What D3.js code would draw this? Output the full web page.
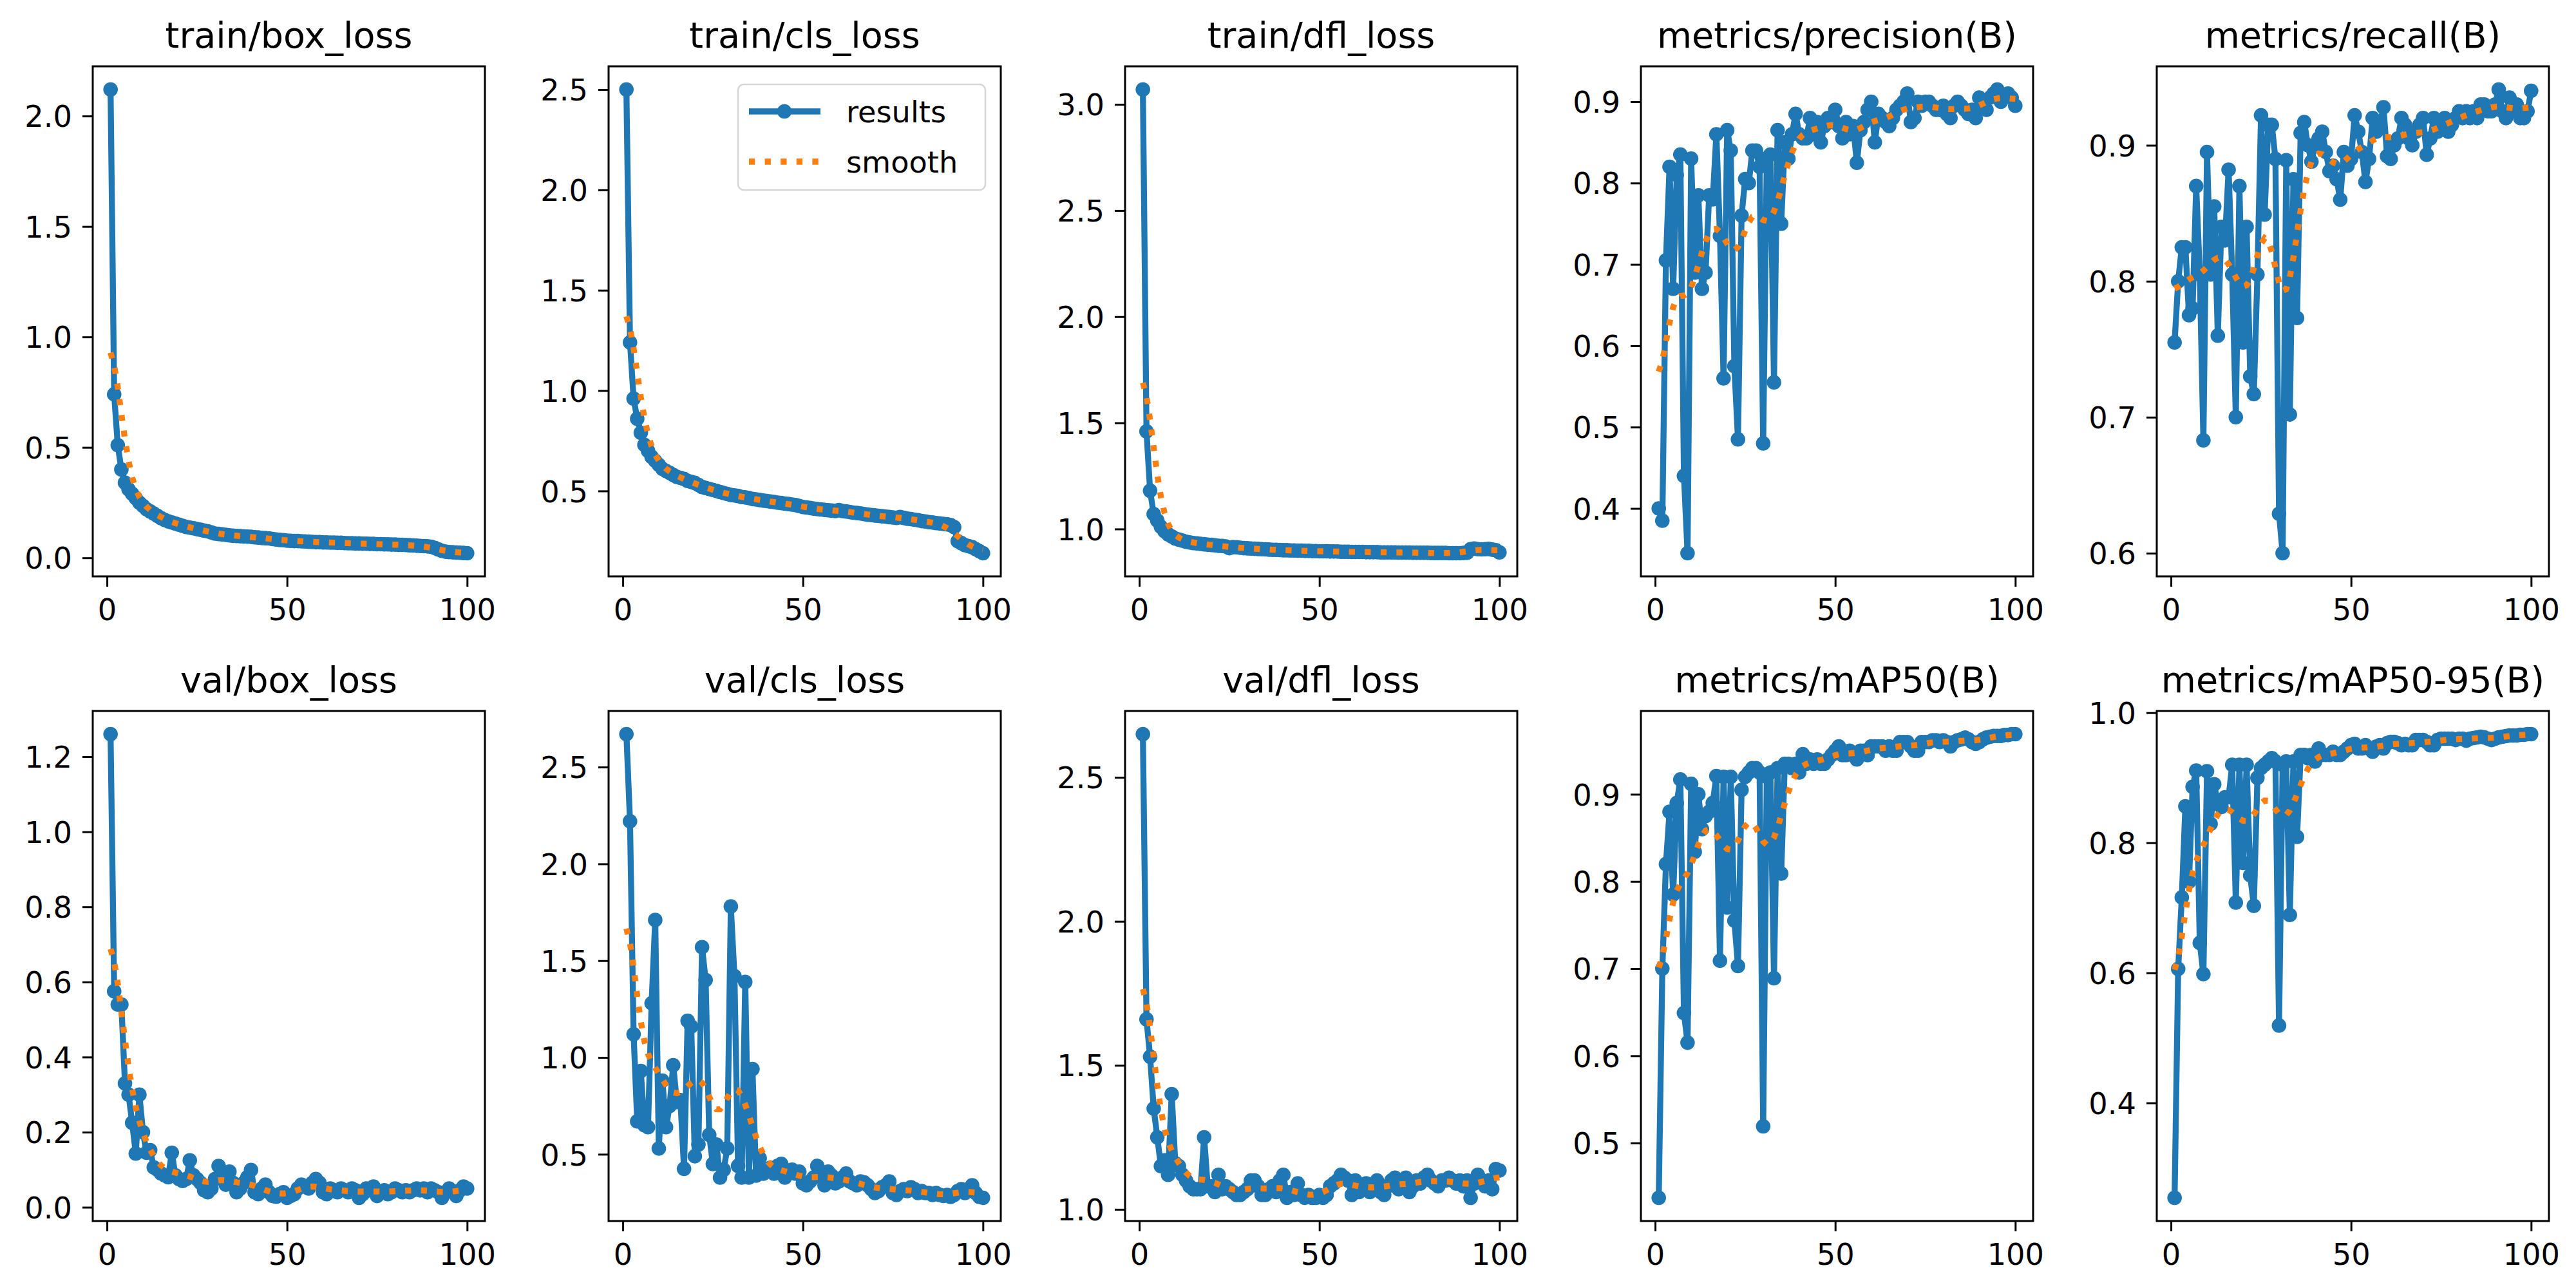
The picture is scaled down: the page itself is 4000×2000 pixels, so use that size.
<!DOCTYPE html>
<html>
<head>
<meta charset="utf-8">
<script src="https://cdn.jsdelivr.net/npm/d3@7"></script>
<style>
  body { margin: 0; background: #fff; }
  svg { display: block; font-family: "DejaVu Sans", sans-serif; }
</style>
</head>
<body>
<svg id="chart"></svg>
<script>
// epochs 1..100
const epochs = d3.range(1, 101);

const trainBox = [
  2.12,0.74,0.51,0.40,0.34,0.31,0.29,0.27,0.25,0.235,
  0.22,0.21,0.20,0.19,0.18,0.172,0.165,0.16,0.155,0.15,
  0.145,0.14,0.137,0.134,0.13,0.127,0.123,0.12,0.115,0.11,
  0.108,0.106,0.104,0.102,0.10,0.099,0.098,0.097,0.096,0.095,
  0.093,0.092,0.09,0.089,0.088,0.085,0.083,0.081,0.08,0.078,
  0.077,0.076,0.076,0.075,0.074,0.073,0.072,0.071,0.071,0.07,
  0.07,0.069,0.069,0.068,0.068,0.067,0.066,0.066,0.065,0.065,
  0.064,0.064,0.063,0.063,0.062,0.062,0.061,0.061,0.06,0.06,
  0.059,0.059,0.058,0.057,0.056,0.055,0.054,0.053,0.052,0.05,
  0.045,0.038,0.032,0.028,0.026,0.025,0.024,0.023,0.022,0.021
];
const trainCls = [
  2.50,1.24,0.96,0.86,0.79,0.73,0.70,0.67,0.65,0.63,
  0.61,0.60,0.59,0.58,0.57,0.565,0.56,0.55,0.545,0.54,
  0.53,0.52,0.515,0.51,0.505,0.50,0.495,0.49,0.485,0.48,
  0.478,0.475,0.47,0.468,0.465,0.46,0.458,0.455,0.452,0.45,
  0.447,0.445,0.442,0.44,0.437,0.435,0.432,0.43,0.425,0.42,
  0.418,0.415,0.412,0.41,0.408,0.406,0.404,0.402,0.40,0.405,
  0.40,0.398,0.395,0.392,0.39,0.388,0.385,0.382,0.38,0.378,
  0.376,0.374,0.372,0.37,0.368,0.366,0.37,0.366,0.362,0.36,
  0.357,0.354,0.35,0.348,0.345,0.343,0.34,0.338,0.336,0.334,
  0.33,0.32,0.25,0.24,0.23,0.225,0.22,0.21,0.20,0.19
];
const trainDfl = [
  3.07,1.46,1.18,1.07,1.04,1.01,0.99,0.975,0.965,0.955,
  0.95,0.945,0.94,0.937,0.934,0.932,0.93,0.928,0.926,0.925,
  0.923,0.921,0.92,0.918,0.91,0.915,0.914,0.912,0.91,0.909,
  0.908,0.907,0.906,0.905,0.904,0.903,0.902,0.902,0.901,0.90,
  0.90,0.899,0.899,0.898,0.898,0.897,0.897,0.896,0.896,0.895,
  0.895,0.895,0.894,0.894,0.894,0.893,0.893,0.893,0.892,0.892,
  0.892,0.892,0.891,0.891,0.891,0.891,0.89,0.89,0.89,0.89,
  0.89,0.889,0.889,0.889,0.889,0.888,0.888,0.888,0.888,0.888,
  0.887,0.887,0.887,0.887,0.887,0.886,0.886,0.886,0.886,0.887,
  0.888,0.905,0.908,0.905,0.904,0.905,0.906,0.903,0.90,0.89
];
const precision = [
  0.40,0.385,0.705,0.82,0.67,0.81,0.835,0.44,0.345,0.83,
  0.69,0.785,0.67,0.69,0.785,0.78,0.86,0.735,0.56,0.865,
  0.84,0.575,0.485,0.76,0.805,0.80,0.84,0.84,0.82,0.48,
  0.83,0.835,0.555,0.865,0.75,0.85,0.83,0.86,0.885,0.86,
  0.855,0.855,0.88,0.86,0.875,0.85,0.87,0.88,0.875,0.89,
  0.87,0.855,0.875,0.86,0.87,0.825,0.865,0.875,0.89,0.90,
  0.85,0.885,0.88,0.875,0.87,0.88,0.89,0.895,0.90,0.91,
  0.875,0.88,0.90,0.895,0.90,0.90,0.895,0.89,0.89,0.895,
  0.885,0.88,0.895,0.90,0.895,0.89,0.885,0.89,0.88,0.905,
  0.90,0.89,0.905,0.91,0.915,0.90,0.905,0.91,0.905,0.895
];
const recall = [
  0.755,0.80,0.825,0.825,0.775,0.78,0.87,0.805,0.683,0.895,
  0.805,0.855,0.76,0.84,0.83,0.882,0.805,0.70,0.87,0.755,
  0.84,0.73,0.717,0.805,0.922,0.849,0.915,0.915,0.89,0.629,
  0.60,0.889,0.702,0.875,0.773,0.909,0.917,0.90,0.888,0.90,
  0.905,0.91,0.895,0.881,0.885,0.875,0.86,0.895,0.885,0.89,
  0.922,0.91,0.895,0.873,0.89,0.92,0.91,0.915,0.928,0.892,
  0.89,0.90,0.905,0.92,0.915,0.905,0.90,0.91,0.915,0.92,
  0.893,0.905,0.92,0.91,0.915,0.92,0.91,0.915,0.92,0.925,
  0.92,0.925,0.92,0.925,0.92,0.93,0.93,0.925,0.925,0.93,
  0.941,0.925,0.92,0.935,0.925,0.93,0.92,0.92,0.925,0.94
];
const valBox = [
  1.26,0.575,0.54,0.54,0.33,0.30,0.225,0.143,0.30,0.20,
  0.145,0.152,0.106,0.10,0.09,0.085,0.08,0.145,0.085,0.075,
  0.07,0.075,0.125,0.085,0.075,0.065,0.045,0.04,0.05,0.075,
  0.11,0.085,0.06,0.095,0.065,0.04,0.05,0.065,0.08,0.099,
  0.04,0.035,0.05,0.06,0.04,0.03,0.028,0.035,0.04,0.025,
  0.03,0.035,0.05,0.06,0.055,0.05,0.065,0.075,0.065,0.04,
  0.035,0.05,0.045,0.04,0.05,0.045,0.04,0.05,0.045,0.025,
  0.035,0.05,0.045,0.055,0.03,0.04,0.045,0.035,0.04,0.05,
  0.045,0.04,0.045,0.04,0.045,0.05,0.045,0.05,0.04,0.05,
  0.045,0.04,0.025,0.04,0.05,0.04,0.03,0.045,0.055,0.05
];
const valCls = [
  2.67,2.22,1.12,0.67,0.93,0.65,0.64,1.28,1.71,0.53,
  0.88,0.64,0.75,0.96,0.77,0.78,0.425,1.19,1.16,0.49,
  0.55,1.57,1.40,0.60,0.45,0.55,0.38,0.42,0.53,1.78,
  1.42,0.44,0.38,1.39,0.38,0.94,0.39,0.48,0.40,0.42,
  0.43,0.40,0.44,0.45,0.38,0.41,0.42,0.40,0.41,0.35,
  0.34,0.36,0.38,0.44,0.40,0.34,0.41,0.39,0.35,0.36,
  0.38,0.40,0.36,0.35,0.34,0.36,0.355,0.34,0.32,0.30,
  0.31,0.33,0.34,0.36,0.30,0.29,0.31,0.32,0.31,0.33,
  0.32,0.30,0.31,0.30,0.30,0.29,0.30,0.29,0.285,0.29,
  0.28,0.29,0.31,0.32,0.30,0.32,0.34,0.30,0.28,0.275
];
const valDfl = [
  2.65,1.66,1.53,1.35,1.25,1.15,1.17,1.12,1.40,1.16,
  1.15,1.12,1.10,1.08,1.07,1.07,1.07,1.25,1.08,1.08,
  1.06,1.12,1.07,1.08,1.07,1.06,1.05,1.05,1.06,1.07,
  1.10,1.10,1.08,1.05,1.05,1.07,1.08,1.06,1.10,1.12,
  1.04,1.06,1.05,1.09,1.05,1.04,1.05,1.04,1.04,1.05,
  1.04,1.05,1.08,1.09,1.10,1.12,1.11,1.10,1.05,1.10,
  1.06,1.07,1.09,1.06,1.08,1.10,1.06,1.05,1.08,1.10,
  1.11,1.07,1.09,1.11,1.06,1.08,1.10,1.09,1.11,1.12,
  1.10,1.09,1.08,1.10,1.10,1.11,1.10,1.09,1.10,1.08,
  1.10,1.04,1.09,1.12,1.10,1.08,1.10,1.07,1.14,1.135
];
const map50 = [
  0.437,0.70,0.82,0.88,0.785,0.89,0.917,0.649,0.615,0.912,
  0.834,0.90,0.86,0.875,0.88,0.89,0.921,0.709,0.92,0.77,
  0.92,0.755,0.703,0.905,0.92,0.925,0.93,0.93,0.925,0.519,
  0.92,0.925,0.689,0.93,0.809,0.935,0.935,0.93,0.935,0.925,
  0.946,0.935,0.94,0.935,0.94,0.935,0.935,0.94,0.945,0.95,
  0.955,0.945,0.945,0.95,0.945,0.94,0.95,0.95,0.945,0.955,
  0.955,0.955,0.955,0.95,0.955,0.95,0.95,0.96,0.96,0.96,
  0.955,0.95,0.95,0.96,0.96,0.96,0.962,0.962,0.96,0.962,
  0.96,0.955,0.96,0.962,0.963,0.965,0.963,0.96,0.958,0.96,
  0.963,0.965,0.966,0.967,0.967,0.967,0.968,0.968,0.969,0.969
];
const map5095 = [
  0.254,0.606,0.716,0.856,0.74,0.886,0.911,0.646,0.598,0.91,
  0.829,0.89,0.86,0.855,0.87,0.87,0.92,0.708,0.92,0.769,
  0.92,0.75,0.703,0.90,0.915,0.92,0.925,0.93,0.925,0.519,
  0.92,0.925,0.689,0.925,0.809,0.935,0.935,0.93,0.935,0.925,
  0.945,0.935,0.935,0.935,0.94,0.935,0.935,0.94,0.945,0.95,
  0.952,0.945,0.945,0.95,0.945,0.94,0.948,0.95,0.945,0.953,
  0.955,0.955,0.953,0.95,0.952,0.95,0.95,0.958,0.958,0.958,
  0.955,0.95,0.95,0.958,0.96,0.96,0.96,0.96,0.958,0.96,
  0.96,0.957,0.96,0.961,0.962,0.963,0.962,0.96,0.958,0.96,
  0.962,0.963,0.964,0.965,0.965,0.965,0.966,0.966,0.967,0.967
];

const titles = [
  "train/box_loss", "train/cls_loss", "train/dfl_loss", "metrics/precision(B)", "metrics/recall(B)",
  "val/box_loss", "val/cls_loss", "val/dfl_loss", "metrics/mAP50(B)", "metrics/mAP50-95(B)"
];
const series = [trainBox, trainCls, trainDfl, precision, recall, valBox, valCls, valDfl, map50, map5095];
const yTicks = [
  [0.0, 0.5, 1.0, 1.5, 2.0],
  [0.5, 1.0, 1.5, 2.0, 2.5],
  [1.0, 1.5, 2.0, 2.5, 3.0],
  [0.4, 0.5, 0.6, 0.7, 0.8, 0.9],
  [0.6, 0.7, 0.8, 0.9],
  [0.0, 0.2, 0.4, 0.6, 0.8, 1.0, 1.2],
  [0.5, 1.0, 1.5, 2.0, 2.5],
  [1.0, 1.5, 2.0, 2.5],
  [0.5, 0.6, 0.7, 0.8, 0.9],
  [0.4, 0.6, 0.8, 1.0]
];
const xTicks = [0, 50, 100];
const legendLabels = ["results", "smooth"];

const blue = "#1f77b4", orange = "#ff7f0e";

// gaussian_filter1d(sigma=3), reflect mode, like the original results plot
function smooth(y, sigma = 3) {
  const r = Math.floor(4 * sigma + 0.5);
  const w = d3.range(-r, r + 1).map(k => Math.exp(-0.5 * k * k / (sigma * sigma)));
  const ws = d3.sum(w);
  const n = y.length;
  return y.map((_, i) => {
    let s = 0;
    for (let k = -r; k <= r; k++) {
      let j = i + k;
      if (j < 0) j = -j - 1;
      if (j >= n) j = 2 * n - j - 1;
      s += w[k + r] * y[j];
    }
    return s / ws;
  });
}

const svgWidth = 4000, svgHeight = 2000;
const colLeft = [144, 945, 1747, 2548, 3349];
const rowTop = [103, 1104];
const pw = 609, ph = 792;
const fsTitle = 55.6, fsTick = 46.3;
const tickLen = 16, tickPad = 16;

const svg = d3.select("#chart")
  .attr("width", svgWidth)
  .attr("height", svgHeight);

svg.append("rect").attr("width", svgWidth).attr("height", svgHeight).attr("fill", "#fff");

series.forEach((vals, i) => {
  const left = colLeft[i % 5], top = rowTop[Math.floor(i / 5)];
  const g = svg.append("g").attr("transform", `translate(${left},${top})`);

  const sm = smooth(vals);
  const lo = d3.min(vals.concat(sm)), hi = d3.max(vals.concat(sm));
  const pad = (hi - lo) * 0.05;

  const x = d3.scaleLinear().domain([1 - 4.95, 100 + 4.95]).range([0, pw]);
  const y = d3.scaleLinear().domain([lo - pad, hi + pad]).range([ph, 0]);

  g.append("clipPath").attr("id", "clip" + i)
    .append("rect").attr("width", pw).attr("height", ph);

  const plot = g.append("g").attr("clip-path", `url(#clip${i})`);

  const line = d3.line().x((d, k) => x(epochs[k])).y(d => y(d));

  plot.append("path")
    .datum(vals)
    .attr("d", line)
    .attr("fill", "none")
    .attr("stroke", blue)
    .attr("stroke-width", 9.3)
    .attr("stroke-linejoin", "round");

  plot.selectAll("circle")
    .data(vals)
    .enter()
    .append("circle")
    .attr("cx", (d, k) => x(epochs[k]))
    .attr("cy", d => y(d))
    .attr("r", 9)
    .attr("fill", blue)
    .attr("stroke", blue)
    .attr("stroke-width", 4.6);

  plot.append("path")
    .datum(sm)
    .attr("d", line)
    .attr("fill", "none")
    .attr("stroke", orange)
    .attr("stroke-width", 9.3)
    .attr("stroke-dasharray", "9.3,15.3");

  // axes
  const xAxis = g.append("g")
    .attr("transform", `translate(0,${ph})`)
    .call(d3.axisBottom(x).tickValues(xTicks).tickSize(tickLen).tickPadding(tickPad).tickFormat(d3.format("d")));
  const yAxis = g.append("g")
    .call(d3.axisLeft(y).tickValues(yTicks[i]).tickSize(tickLen).tickPadding(tickPad).tickFormat(d3.format(".1f")));

  [xAxis, yAxis].forEach(a => {
    a.select(".domain").remove();
    a.selectAll("line").attr("stroke", "#000").attr("stroke-width", 3);
    a.selectAll("text")
      .attr("fill", "#000")
      .style("font-family", "DejaVu Sans")
      .style("font-size", fsTick + "px");
  });
  xAxis.selectAll("text").attr("dy", null).attr("y", tickLen + tickPad + 36);
  yAxis.selectAll("text").attr("dy", "0.36em");

  g.append("rect")
    .attr("width", pw)
    .attr("height", ph)
    .attr("fill", "none")
    .attr("stroke", "#000")
    .attr("stroke-width", 3);

  g.append("text")
    .attr("x", pw / 2)
    .attr("y", -29)
    .attr("text-anchor", "middle")
    .style("font-size", fsTitle + "px")
    .attr("fill", "#000")
    .text(titles[i]);

  // legend only on the train/cls_loss panel
  if (i === 1) {
    const lg = g.append("g").attr("transform", `translate(${pw - 24 - 384},28)`);
    lg.append("rect")
      .attr("width", 384)
      .attr("height", 164)
      .attr("rx", 9)
      .attr("fill", "#fff")
      .attr("fill-opacity", 0.8)
      .attr("stroke", "#d6d6d6")
      .attr("stroke-width", 2.5);
    lg.append("line")
      .attr("x1", 17).attr("x2", 128).attr("y1", 42).attr("y2", 42)
      .attr("stroke", blue).attr("stroke-width", 9.3);
    lg.append("circle")
      .attr("cx", 72).attr("cy", 42).attr("r", 9)
      .attr("fill", blue).attr("stroke", blue).attr("stroke-width", 4.6);
    lg.append("line")
      .attr("x1", 17).attr("x2", 128).attr("y1", 120).attr("y2", 120)
      .attr("stroke", orange).attr("stroke-width", 9.3)
      .attr("stroke-dasharray", "9.3,15.3");
    lg.selectAll(".lbl")
      .data(legendLabels)
      .enter()
      .append("text")
      .attr("x", 168)
      .attr("y", (d, k) => 42 + k * 78)
      .attr("dy", "0.36em")
      .style("font-size", fsTick + "px")
      .attr("fill", "#000")
      .text(d => d);
  }
});
</script>
</body>
</html>
